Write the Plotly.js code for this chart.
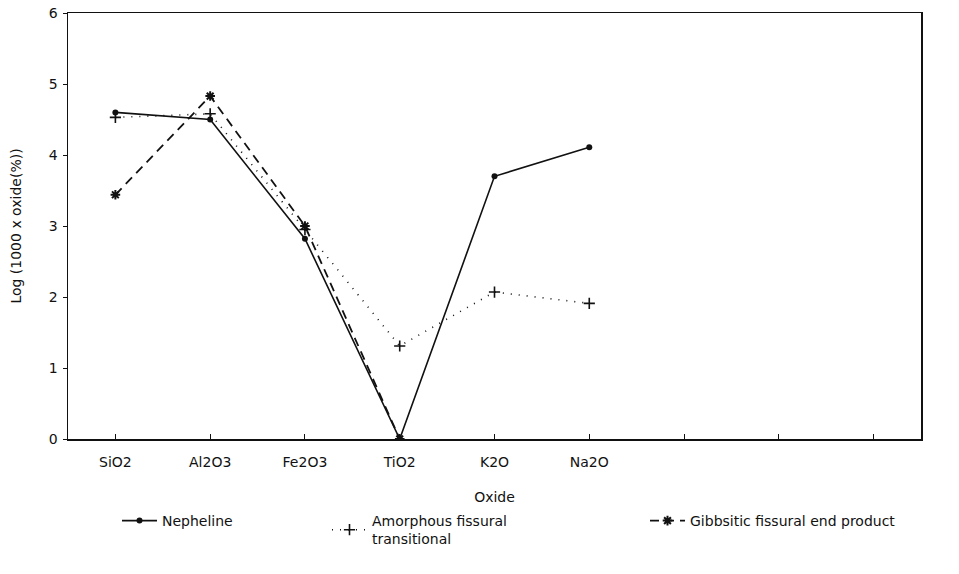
<!DOCTYPE html>
<html>
<head>
<meta charset="utf-8">
<script src="https://cdn.plot.ly/plotly-3.0.1.min.js"></script>
<style>html,body{margin:0;padding:0;background:#fff;}#chart{width:959px;height:574px;}</style>
</head>
<body>
<div id="chart"></div>
<script>
// Categories (x axis), including three unlabeled slots on the right
const oxides = ["SiO2", "Al2O3", "Fe2O3", "TiO2", "K2O", "Na2O", "", "", ""];
// Series values: Log(1000 x oxide(%))
const nepheline = [4.60, 4.50, 2.82, 0.0, 3.70, 4.11];
const amorphous = [4.53, 4.58, 2.95, 1.31, 2.07, 1.91];
const gibbsitic = [3.44, 4.83, 3.00, 0.0];
const yTicks = [0, 1, 2, 3, 4, 5, 6];

const idx = arr => arr.map((_, i) => i);
const font = {family: "DejaVu Sans, Arial, sans-serif", size: 14, color: "#111"};

const traces = [
  {x: idx(nepheline), y: nepheline, name: "Nepheline", mode: "lines+markers", legend: "legend",
   line: {color: "#111", width: 1.6, dash: "solid"},
   marker: {symbol: "circle", size: 6, color: "#111"}},
  {x: idx(amorphous), y: amorphous, name: "Amorphous fissural<br>transitional", mode: "lines+markers", legend: "legend2",
   line: {color: "#111", width: 1.6, dash: "1px,7px"},
   marker: {symbol: "cross-thin-open", size: 8, line: {color: "#111", width: 1.6}}},
  {x: idx(gibbsitic), y: gibbsitic, name: "Gibbsitic fissural end product", mode: "lines+markers", legend: "legend3",
   line: {color: "#111", width: 1.8, dash: "9px,6px"},
   marker: {symbol: "asterisk-open", size: 8, line: {color: "#111", width: 2}}}
];

const legendBase = {orientation: "h", xref: "container", yref: "container", yanchor: "top",
  font: font, bgcolor: "rgba(0,0,0,0)", itemwidth: 35, tracegroupgap: 0};

const layout = {
  width: 959, height: 574,
  margin: {l: 68, r: 38, t: 13, b: 135},
  paper_bgcolor: "#fff", plot_bgcolor: "#fff",
  font: font,
  showlegend: true,
  xaxis: {
    range: [-0.5, 8.5], tickvals: idx(oxides), ticktext: oxides,
    showgrid: false, zeroline: false, showline: true, mirror: true,
    linecolor: "#111", linewidth: 1.5, ticks: "inside", ticklen: 5, tickcolor: "#111",
    tickfont: font, ticklabelstandoff: 10,
    title: {text: "Oxide", font: font, standoff: 25}
  },
  yaxis: {
    range: [0, 6], tickvals: yTicks,
    showgrid: false, zeroline: false, showline: true, mirror: true,
    linecolor: "#111", linewidth: 1.5, ticks: "outside", ticklen: 4, tickcolor: "#111",
    tickfont: font, ticklabelstandoff: 2,
    title: {text: "Log (1000 x oxide(%))", font: font, standoff: 24}
  },
  legend: Object.assign({}, legendBase, {x: 117/959, y: 1 - 505/574}),
  legend2: Object.assign({}, legendBase, {x: 327/959, y: 1 - 505/574}),
  legend3: Object.assign({}, legendBase, {x: 645/959, y: 1 - 505/574})
};

Plotly.newPlot("chart", traces, layout, {displayModeBar: false, staticPlot: true});
</script>
</body>
</html>
